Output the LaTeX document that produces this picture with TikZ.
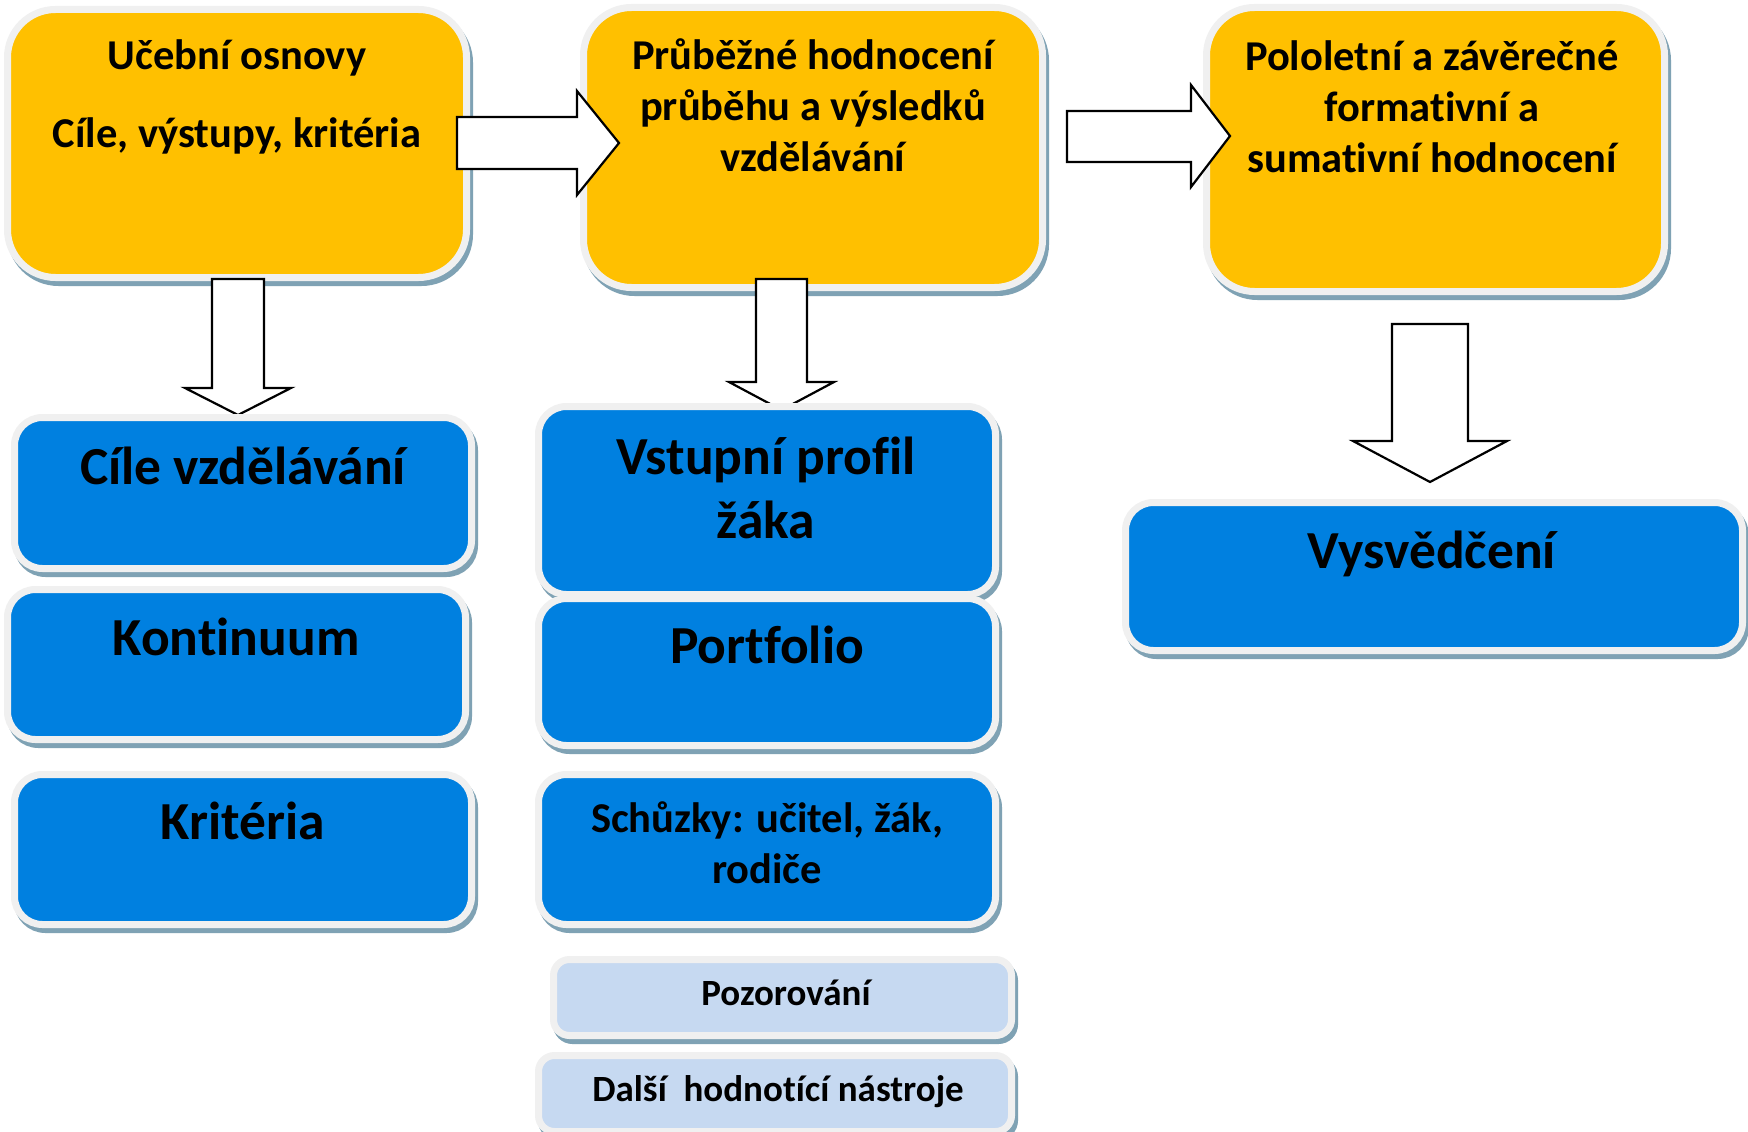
\documentclass[tikz,border=0pt]{standalone}
\usepackage{fontspec}
\setmainfont{Carlito}[Ligatures=NoCommon]
\usetikzlibrary{shadows}
\definecolor{yel}{HTML}{FFC000}
\definecolor{blu}{HTML}{0080E0}
\definecolor{lblu}{HTML}{C6D9F1}
\definecolor{bord}{HTML}{F0F0F0}
\definecolor{shad}{HTML}{7FA2B4}
\tikzset{
 card/.style={draw=bord, line width=7pt, inner sep=0pt,
   general shadow={fill=shad, draw=shad, line width=7pt, shadow xshift=3pt, shadow yshift=-5pt}},
 ybox/.style={card, fill=yel, rounded corners=48pt},
 bbox/.style={card, fill=blu, rounded corners=28pt},
 lbox/.style={card, fill=lblu, rounded corners=16pt},
 barrow/.style={draw=black, fill=white, line width=2.2pt, line join=miter},
 bigt/.style={font=\fontsize{53.5}{64}\selectfont\bfseries, align=center, anchor=base, inner sep=0pt},
 midt/.style={font=\fontsize{42.5}{51}\selectfont\bfseries, align=center, anchor=base, inner sep=0pt},
 smlt/.style={font=\fontsize{37}{45}\selectfont\bfseries, align=center, anchor=base, inner sep=0pt},
}
\begin{document}
\begin{tikzpicture}[x=1pt,y=-1pt]
\useasboundingbox[fill=white] (0,0) rectangle (1748,1132);
% top yellow boxes
\node[ybox, minimum width=459pt, minimum height=268pt] (b1) at (237,143.5) {};
\node[ybox, minimum width=459pt, minimum height=280pt] (b2) at (813,147.5) {};
\node[ybox, minimum width=458pt, minimum height=284pt] (b3) at (1435.5,149.5) {};
\node[midt] (t1) at (237,147) {Učební osnovy\\[27pt]Cíle, výstupy, kritéria};
\node[midt] (t2) at (813,171) {Průběžné hodnocení\\průběhu a výsledků\\vzdělávání};
\node[midt] (t3) at (1432,172) {Pololetní a závěrečné\\formativní a\\sumativní hodnocení};
% block arrows
\draw[barrow] (457,117) -- (577,117) -- (577,91) -- (619,143) -- (577,195) -- (577,169) -- (457,169) -- cycle;
\draw[barrow] (1067,111) -- (1191,111) -- (1191,85) -- (1230,136) -- (1191,187) -- (1191,162) -- (1067,162) -- cycle;
\draw[barrow] (212,279) -- (264,279) -- (264,388) -- (291,388) -- (238,415) -- (185,388) -- (212,388) -- cycle;
\draw[barrow] (756,279) -- (807,279) -- (807,382) -- (834,382) -- (781.5,410) -- (729,382) -- (756,382) -- cycle;
\draw[barrow] (1392,324) -- (1468,324) -- (1468,441) -- (1507,441) -- (1430,482) -- (1353,441) -- (1392,441) -- cycle;
% column 1
\node[bbox, minimum width=457pt, minimum height=151pt] (c1) at (243,493) {};
\node[bbox, minimum width=458pt, minimum height=150pt] (c2) at (236.5,664.5) {};
\node[bbox, minimum width=457pt, minimum height=150pt] (c3) at (243,849.5) {};
\node[bigt] at (243,484) {Cíle vzdělávání};
\node[bigt] at (236,655) {Kontinuum};
\node[bigt] at (243,839) {Kritéria};
% column 2
\node[bbox, minimum width=457pt, minimum height=188pt] (d1) at (767,500.5) {};
\node[bbox, minimum width=457pt, minimum height=147pt] (d2) at (767,672) {};
\node[bbox, minimum width=457pt, minimum height=150pt] (d3) at (767,849.5) {};
\node[lbox, minimum width=458pt, minimum height=76pt] (d4) at (782.5,997.5) {};
\node[lbox, minimum width=473pt, minimum height=76pt] (d5) at (775,1093.5) {};
\node[bigt] at (766,538) {Vstupní profil\\žáka};
\node[bigt] at (767,663) {Portfolio};
\node[midt] at (767,883) {Schůzky: učitel, žák,\\rodiče};
\node[smlt] at (786,1005) {Pozorování};
\node[smlt] at (778,1101) {Další~~hodnotící nástroje};
% column 3
\node[bbox, minimum width=617pt, minimum height=148pt] (e1) at (1434,576.5) {};
\node[bigt] at (1432,568) {Vysvědčení};
\end{tikzpicture}
\end{document}
